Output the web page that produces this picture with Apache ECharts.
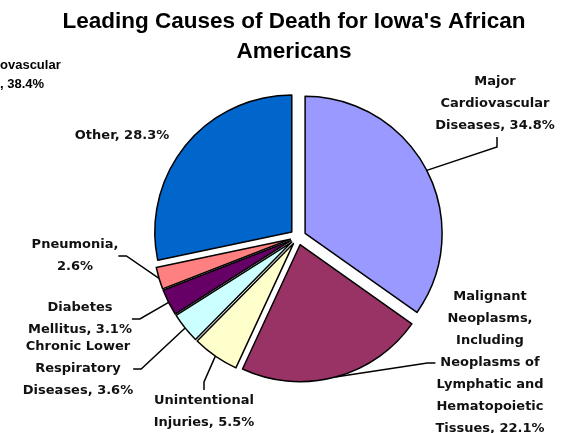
<!DOCTYPE html>
<html>
<head>
<meta charset="utf-8">
<script src="https://cdn.jsdelivr.net/npm/echarts@6/dist/echarts.min.js"></script>
<style>html,body{margin:0;padding:0;background:#fff}#c{width:561px;height:433px}</style>
</head>
<body>
<div id="c"></div>
<script>
const titleText = "Leading Causes of Death for Iowa's African\nAmericans";
const categories = [
  "Major\nCardiovascular\nDiseases",
  "Malignant\nNeoplasms,\nIncluding\nNeoplasms of\nLymphatic and\nHematopoietic\nTissues",
  "Unintentional\nInjuries",
  "Chronic Lower\nRespiratory\nDiseases",
  "Diabetes\nMellitus",
  "Pneumonia,\n",
  "Other"
];
const values = [34.8, 22.1, 5.5, 3.6, 3.1, 2.6, 28.3];
const colors = ["#9999FF", "#993366", "#FFFFCC", "#CCFFFF", "#660066", "#FF8080", "#0066CC"];
const strayLabel = ["ovascular", ", 38.4%"];

// layout
const CX = 298, CY = 237, R = 137, EXPLODE = 8, LINE_H = 22;
const labelPos = [[495,104],[490,363],[204,412],[78,369],[80,319],[75,256],[122,136]];

const total = values.reduce(function(a, b){ return a + b; }, 0);
let cum = 0;
const series = values.map(function(v, i){
  const mid = (cum + v / 2) / total * 2 * Math.PI; // clockwise from 12 o'clock
  cum += v;
  const cx = CX + EXPLODE * Math.sin(mid);
  const cy = CY - EXPLODE * Math.cos(mid);
  const arcPt = [cx + R * Math.sin(mid), cy - R * Math.cos(mid)];
  return {
    type: 'pie',
    center: [cx, cy],
    radius: R,
    startAngle: 90,
    clockwise: true,
    avoidLabelOverlap: false,
    silent: true,
    emphasis: {disabled: true},
    itemStyle: {borderColor: '#000', borderWidth: 1.5},
    label: {
      show: true,
      position: 'outside',
      fontFamily: 'DejaVu Sans, sans-serif',
      fontWeight: 'bold',
      fontSize: 13,
      lineHeight: LINE_H,
      color: '#111',
      align: 'center',
      formatter: function(p){
        const name = categories[p.dataIndex];
        if (name.endsWith('\n')) return name + p.value.toFixed(1) + '%';
        return name + ', ' + p.value.toFixed(1) + '%';
      }
    },
    labelLine: {show: i !== 6, length: 10, length2: 8, smooth: false, lineStyle: {color: '#000', width: 1.5}},
    labelLayout: function(params){
      if (params.dataIndex !== i) return {};
      const p = labelPos[i];
      const out = {x: p[0], y: p[1], align: 'center', verticalAlign: 'middle'};
      if (i === 0) {
        const nLines = categories[i].split('\n').length;
        const bottom = p[1] + nLines * LINE_H / 2;
        out.labelLinePoints = [arcPt, [p[0] + 2, bottom + 10], [p[0] + 2, bottom]];
      }
      return out;
    },
    data: values.map(function(w, j){
      if (j === i) {
        return {value: w, name: categories[j], itemStyle: {color: colors[j]}};
      }
      return {
        value: w, name: categories[j],
        itemStyle: {color: 'rgba(0,0,0,0)', borderWidth: 0},
        label: {show: false}, labelLine: {show: false}
      };
    })
  };
});

const chart = echarts.init(document.getElementById('c'), null, {renderer:'canvas'});
chart.setOption({
  animation: false,
  backgroundColor: '#fff',
  title: {
    text: titleText,
    left: 294, top: 7, padding: 0, textAlign: 'center',
    textStyle: {fontFamily: 'Liberation Sans, Arial, sans-serif', fontWeight: 'bold', fontSize: 22.5, lineHeight: 30, color: '#000'}
  },
  graphic: [
    {type:'text', left: 0, top: 59, style:{text: strayLabel[0], font:'bold 13px "Liberation Sans", Arial, sans-serif', fill:'#000'}},
    {type:'text', left: 0, top: 78, style:{text: strayLabel[1], font:'bold 13px "Liberation Sans", Arial, sans-serif', fill:'#000'}}
  ],
  series: series
});
</script>
</body>
</html>
